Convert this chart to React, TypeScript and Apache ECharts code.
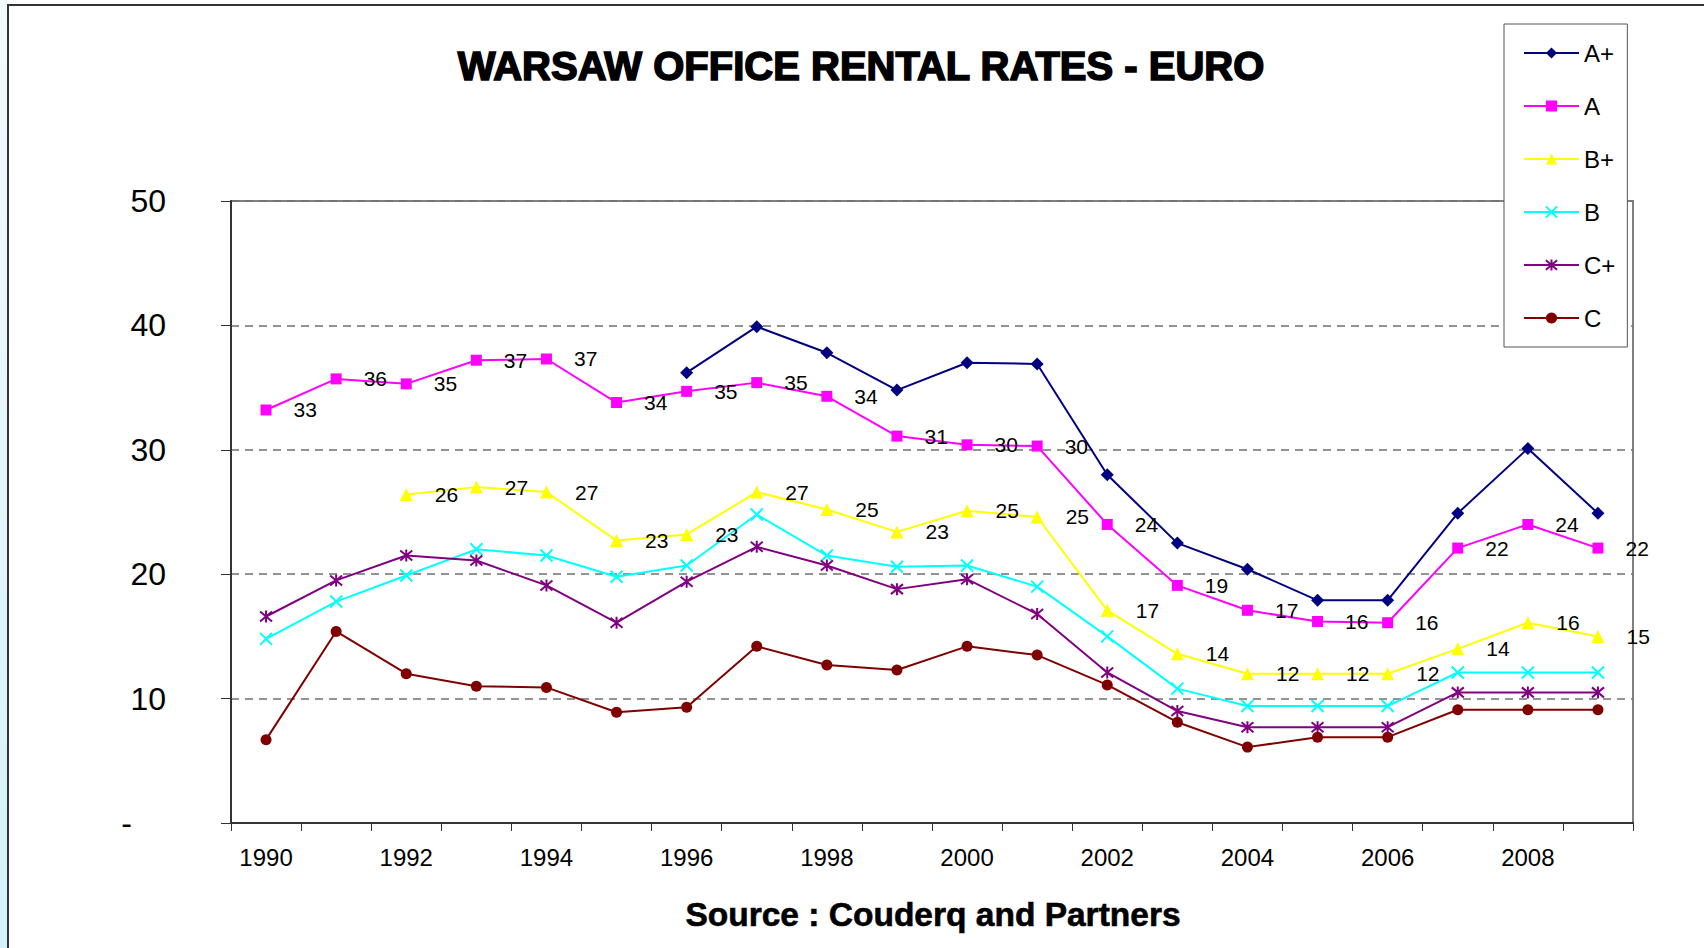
import React, { useEffect, useRef } from "react";
import * as echarts from "echarts";

const years = ["1990","1991","1992","1993","1994","1995","1996","1997","1998","1999","2000","2001","2002","2003","2004","2005","2006","2007","2008","2009"];
const aPlus = [null, null, null, null, null, null, 36.2, 39.9, 37.8, 34.8, 37.0, 36.9, 28.0, 22.5, 20.4, 17.9, 17.9, 24.9, 30.1, 24.9];
const aVals = [33.2, 35.7, 35.3, 37.2, 37.3, 33.8, 34.7, 35.4, 34.3, 31.1, 30.4, 30.3, 24.0, 19.1, 17.1, 16.2, 16.1, 22.1, 24.0, 22.1];
const bPlus = [null, null, 26.4, 27.0, 26.6, 22.7, 23.2, 26.6, 25.2, 23.4, 25.1, 24.6, 17.1, 13.6, 12.0, 12.0, 12.0, 14.0, 16.1, 15.0];
const bVals = [14.8, 17.8, 19.9, 22.0, 21.5, 19.8, 20.7, 24.8, 21.5, 20.6, 20.7, 19.0, 15.0, 10.8, 9.4, 9.4, 9.4, 12.1, 12.1, 12.1];
const cPlus = [16.6, 19.5, 21.5, 21.1, 19.1, 16.1, 19.4, 22.2, 20.7, 18.8, 19.6, 16.8, 12.1, 9.0, 7.7, 7.7, 7.7, 10.5, 10.5, 10.5];
const cVals = [6.7, 15.4, 12.0, 11.0, 10.9, 8.9, 9.3, 14.2, 12.7, 12.3, 14.2, 13.5, 11.1, 8.1, 6.1, 6.9, 6.9, 9.1, 9.1, 9.1];

const titleText = "WARSAW OFFICE RENTAL RATES - EURO";
const sourceText = "Source : Couderq and Partners";

const FONT = '"Liberation Sans", Arial, sans-serif';
const X_SYMBOL = "path://M0,0L10,10M10,0L0,10";
const STAR_SYMBOL = "path://M0,0L10,10M10,0L0,10M5,-1L5,11";

export default function App() {
  const ref = useRef<HTMLDivElement>(null);
  useEffect(() => {
    if (!ref.current) return;
    const chart = echarts.init(ref.current, null, { renderer: "svg" });
    const label = {
      show: true,
      position: "right",
      distance: 22,
      color: "#000",
      fontSize: 21,
      fontFamily: FONT,
      formatter: (p: any) => String(Math.round(p.value)),
    };
    const mk = (name: string, data: any[], color: string, symbol: string, size: number, withLabel: boolean, stroke = false) => ({
      name,
      type: "line",
      data,
      symbol,
      symbolSize: size,
      showAllSymbol: true,
      lineStyle: { color, width: 2 },
      itemStyle: stroke
        ? { color, borderColor: color, borderWidth: 2 }
        : { color, borderWidth: 0 },
      label: withLabel ? label : { show: false },
      emphasis: { disabled: true },
      connectNulls: false,
    });
    chart.setOption({
      animation: false,
      backgroundColor: "#fff",
      grid: {
        left: 231,
        right: 71,
        top: 201,
        bottom: 125,
        show: true,
        borderColor: "#808080",
        borderWidth: 2,
        backgroundColor: "transparent",
      },
      legend: {
        orient: "vertical",
        left: 1504,
        top: 24,
        padding: [17, 12, 17, 19],
        backgroundColor: "#fff",
        borderColor: "#555",
        borderWidth: 1,
        itemWidth: 55,
        itemHeight: 14,
        itemGap: 29,
        textStyle: { fontSize: 24, color: "#000", fontFamily: FONT },
        data: ["A+", "A", "B+", "B", "C+", "C"],
      },
      xAxis: {
        type: "category",
        data: years,
        boundaryGap: true,
        axisLine: { lineStyle: { color: "#333", width: 2 } },
        axisTick: { show: true, alignWithLabel: false, interval: 0, length: 8, lineStyle: { color: "#333", width: 1 } },
        axisLabel: { interval: 1, margin: 22, fontSize: 24, color: "#000", fontFamily: FONT },
        splitLine: { show: false },
      },
      yAxis: {
        type: "value",
        min: 0,
        max: 50,
        interval: 10,
        axisLine: { show: true, lineStyle: { color: "#333", width: 2 } },
        axisTick: { show: true, length: 10, lineStyle: { color: "#333", width: 1 } },
        axisLabel: {
          margin: 65,
          fontSize: 32,
          color: "#000",
          fontFamily: FONT,
          formatter: (v: number) => (v === 0 ? "{z|-}" : String(v)),
          rich: { z: { fontSize: 32, fontFamily: FONT, color: "#000", padding: [0, 34, 0, 0] } },
        },
        splitLine: { show: true, lineStyle: { color: "#707070", width: 1.5, type: [8, 6] } },
      },
      graphic: [
        {
          type: "rect",
          silent: true,
          shape: { x: 0, y: 0, width: 7, height: 948 },
          style: {
            fill: new echarts.graphic.LinearGradient(0, 0, 0, 1, [
              { offset: 0, color: "#f2fafd" },
              { offset: 1, color: "#d3f2fa" },
            ]),
          },
        },
        {
          type: "rect",
          silent: true,
          shape: { x: 8, y: 5, width: 1720, height: 980 },
          style: { fill: "none", stroke: "#333", lineWidth: 2 },
        },
        {
          type: "text",
          silent: true,
          x: 861,
          y: 66,
          style: {
            text: titleText,
            fill: "#000",
            stroke: "#000",
            lineWidth: 1.6,
            fontSize: 40,
            fontWeight: "bold",
            fontFamily: FONT,
            align: "center",
            verticalAlign: "middle",
            textAlign: "center",
            textVerticalAlign: "middle",
          },
        },
        {
          type: "text",
          silent: true,
          x: 933,
          y: 914,
          style: {
            text: sourceText,
            fill: "#000",
            stroke: "#000",
            lineWidth: 0.6,
            fontSize: 33.5,
            fontWeight: "bold",
            fontFamily: FONT,
            align: "center",
            verticalAlign: "middle",
            textAlign: "center",
            textVerticalAlign: "middle",
          },
        },
      ],
      series: [
        mk("A+", aPlus, "#000080", "diamond", 13, false),
        mk("A", aVals, "#FF00FF", "rect", 11, true),
        mk("B+", bPlus, "#FFFF00", "triangle", 13, true),
        mk("B", bVals, "#00FFFF", X_SYMBOL, 12, false, true),
        mk("C+", cPlus, "#800080", STAR_SYMBOL, 12, false, true),
        mk("C", cVals, "#800000", "circle", 11, false),
      ],
    });
    return () => chart.dispose();
  }, []);
  return <div ref={ref} style={{ position: "fixed", left: 0, top: 0, width: 1704, height: 948 }} />;
}
